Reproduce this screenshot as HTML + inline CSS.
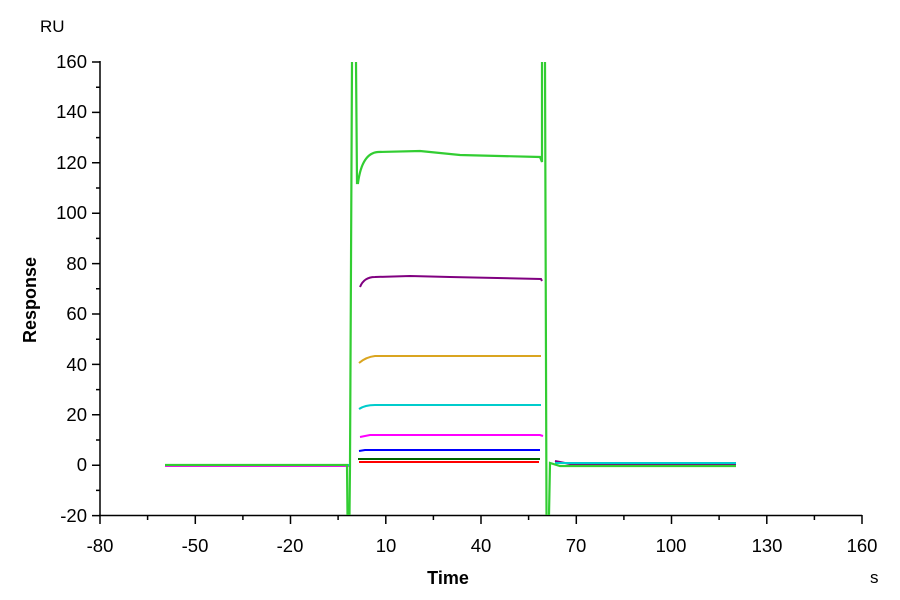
<!DOCTYPE html><html><head><style>body{margin:0;background:#fff}svg{display:block}text{font-family:"Liberation Sans",sans-serif}</style></head><body>
<svg width="900" height="600" viewBox="0 0 900 600">
<g stroke="#000" stroke-width="1.5" fill="none">
<line x1="100" y1="61" x2="100" y2="516"/>
<line x1="99" y1="515.5" x2="862" y2="515.5"/>
<path d="M92 62h8M92 112.4h8M92 162.8h8M92 213.2h8M92 263.6h8M92 314h8M92 364.4h8M92 414.8h8M92 465.2h8M92 515.6h8
M96 87.2h4M96 137.6h4M96 188h4M96 238.4h4M96 288.8h4M96 339.2h4M96 389.6h4M96 440h4M96 490.4h4
M100 515v9M195.3 515v9M290.5 515v9M385.8 515v9M481 515v9M576.3 515v9M671.5 515v9M766.8 515v9M862 515v9
M147.6 515v5M242.9 515v5M338.1 515v5M433.4 515v5M528.6 515v5M623.9 515v5M719.1 515v5M814.4 515v5"/>
</g>
<g font-size="18.5" fill="#000" text-anchor="end">
<text x="87" y="68">160</text><text x="87" y="118">140</text><text x="87" y="169">120</text><text x="87" y="219">100</text><text x="87" y="270">80</text><text x="87" y="320">60</text><text x="87" y="371">40</text><text x="87" y="421">20</text><text x="87" y="471">0</text><text x="87" y="522">-20</text>
</g>
<g font-size="18.5" fill="#000" text-anchor="middle">
<text x="100" y="552">-80</text><text x="195" y="552">-50</text><text x="290" y="552">-20</text><text x="386" y="552">10</text><text x="481" y="552">40</text><text x="576" y="552">70</text><text x="671" y="552">100</text><text x="767" y="552">130</text><text x="862" y="552">160</text>
</g>
<text x="40" y="32" font-size="17">RU</text>
<text x="870" y="583" font-size="17">s</text>
<text x="448" y="584" font-size="18" font-weight="bold" text-anchor="middle">Time</text>
<text transform="translate(36,300) rotate(-90)" font-size="18" font-weight="bold" text-anchor="middle">Response</text>
<g fill="none" stroke-width="2">
<path stroke="#ff0000" d="M359 462h180"/>
<path stroke="#006400" d="M358 459h182"/>
<path stroke="#0000ff" d="M359 451 L365 450 H540"/>
<path stroke="#ff00ff" d="M360 437 L370 435 H540 L543 436"/>
<path stroke="#00cccc" d="M359 409 Q365 405 375 405 H541"/>
<path stroke="#daa520" d="M359 363 Q366 357 375 356 H541"/>
<path stroke="#800080" d="M360 287 Q364 277 375 277 L410 276 L450 277 L541 279 L542 281"/>
<path stroke="#800080" d="M555 461 L570 464 H736"/>
<path stroke="#ff00ff" d="M165 466 H350"/>
<path stroke="#00cccc" d="M165 465 H350 M555 463 H736"/>
<path stroke="#32cd32" stroke-width="2.2" d="M165 465 H347 L347.5 515 M349.5 515 L350 465 L352 62 M356 62 L357 183 L358 183 Q362 153 378 152 L420 151 L460 155 L540 157 L542 162 L542 62 M545 62 L546.5 515 M549 515 L550 463 L560 466 H736"/>
</g>
</svg></body></html>
